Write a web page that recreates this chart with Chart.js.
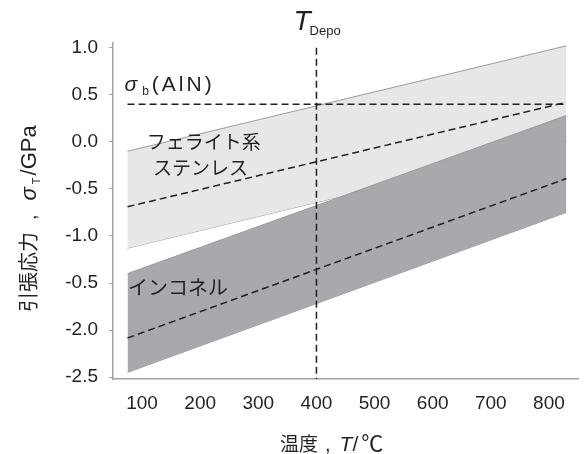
<!DOCTYPE html>
<html>
<head>
<meta charset="utf-8">
<script src="https://cdn.jsdelivr.net/npm/chart.js@4.4.1/dist/chart.umd.min.js"></script>
<style>
  html, body { margin: 0; padding: 0; background: #fff; }
</style>
</head>
<body>
<canvas id="stressChart" width="585" height="454"></canvas>
<script>
// temperature span of the bands (deg C)
const tempRange = [75, 830];
// ferritic stainless band + its mean line (GPa)
const ferriteUpper = [-0.10, 1.02];
const ferriteLower = [-1.13, 0.00];
const ferriteMid = [-0.69, 0.42];
// inconel band + mean line (GPa)
const inconelUpper = [-1.40, 0.28];
const inconelLower = [-2.45, -0.75];
const inconelMid = [-2.085, -0.39];
// bending strength of AlN
const sigmaAlN = [0.40, 0.40];
// deposition temperature marker
const depoTemp = [400, 400];
const depoStress = [1.0, -2.52];

const xTicks = [100, 200, 300, 400, 500, 600, 700, 800];
const yTicks = [-2.5, -2.0, -1.5, -1.0, -0.5, 0.0, 0.5, 1.0];
const yTickLabels = ['-2.5', '-2.0', '-0.5', '-1.0', '-0.5', '0.0', '0.5', '1.0'];

const INK = '#231f20';
const LATIN = '"Liberation Sans", "Noto Sans CJK JP", sans-serif';
const CJK = '"Noto Sans CJK JP", "Liberation Sans", sans-serif';

function pts(xs, ys) {
    return xs.map((x, i) => ({ x: x, y: ys[i] }));
}

function edge(data, fill, bg, order) {
    return {
        data: data, fill: fill, backgroundColor: bg,
        borderColor: '#9b9b9b', borderWidth: 1, pointRadius: 0, order: order
    };
}

function dashed(data) {
    return {
        data: data, fill: false, borderColor: INK, borderWidth: 1.5,
        borderDash: [7, 4], pointRadius: 0, order: 1
    };
}

// draws text pieces one after another (fonts, subscripts, gaps)
function drawRuns(ctx, x, y, runs) {
    let cx = x;
    runs.forEach(r => {
        ctx.font = r.font;
        ctx.letterSpacing = r.spacing || '0px';
        cx += r.before || 0;
        ctx.fillText(r.text, cx, y + (r.dy || 0));
        cx += ctx.measureText(r.text).width + (r.after || 0);
    });
    ctx.letterSpacing = '0px';
}

const labelPlugin = {
    id: 'labels',
    afterDraw(chart) {
        const ctx = chart.ctx;
        const xs = chart.scales.x, ys = chart.scales.y;
        ctx.save();
        ctx.fillStyle = INK;
        ctx.textAlign = 'left';
        ctx.textBaseline = 'alphabetic';

        // T_Depo above the vertical line
        drawRuns(ctx, xs.getPixelForValue(depoTemp[0]) - 23, 30, [
            { text: 'T', font: 'italic 28px ' + LATIN, after: -1 },
            { text: 'Depo', font: '13px ' + LATIN, dy: 5 }
        ]);

        // sigma_b (AlN)
        drawRuns(ctx, xs.getPixelForValue(tempRange[0]) - 3, ys.getPixelForValue(0.54), [
            { text: 'σ', font: 'italic 21px ' + LATIN, after: 5 },
            { text: 'b', font: '12px ' + LATIN, dy: 4, after: 3 },
            { text: '(AlN)', font: '21px ' + LATIN, spacing: '3px' }
        ]);

        ctx.font = '19px ' + CJK;
        ctx.fillText('フェライト系', xs.getPixelForValue(108), ys.getPixelForValue(-0.076));
        ctx.fillText('ステンレス', xs.getPixelForValue(119), ys.getPixelForValue(-0.352));
        ctx.font = '20px ' + CJK;
        ctx.fillText('インコネル', xs.getPixelForValue(76), ys.getPixelForValue(-1.627));

        // x axis title
        drawRuns(ctx, 280, 451, [
            { text: '温度', font: '19px ' + CJK },
            { text: ',', font: '20px ' + LATIN, before: 7, after: 9 },
            { text: 'T', font: 'italic 21px ' + LATIN },
            { text: '/', font: '21px ' + LATIN, after: 3 },
            { text: '℃', font: '22px ' + CJK }
        ]);

        // y axis title, rotated
        ctx.translate(36, 312);
        ctx.rotate(-Math.PI / 2);
        drawRuns(ctx, 0, 0, [
            { text: '引張応力', font: '20px ' + CJK },
            { text: ',', font: '20px ' + LATIN, before: 12, after: 14 },
            { text: 'σ', font: 'italic 22px ' + LATIN, after: 3 },
            { text: 'T', font: '11px ' + LATIN, dy: 4, after: 2 },
            { text: '/GPa', font: '22px ' + LATIN }
        ]);
        ctx.restore();
    }
};

new Chart(document.getElementById('stressChart'), {
    type: 'line',
    data: {
        datasets: [
            edge(pts(tempRange, ferriteUpper), '+1', '#e6e7e8', 10),
            edge(pts(tempRange, ferriteLower), false, '#e6e7e8', 10),
            edge(pts(tempRange, inconelUpper), '+1', '#a7a9ac', 5),
            edge(pts(tempRange, inconelLower), false, '#a7a9ac', 5),
            dashed(pts(tempRange, sigmaAlN)),
            dashed(pts(tempRange, ferriteMid)),
            dashed(pts(tempRange, inconelMid)),
            dashed(pts(depoTemp, depoStress))
        ]
    },
    options: {
        responsive: false,
        animation: false,
        layout: { padding: { top: 43, right: 7, left: 0, bottom: 0 } },
        plugins: { legend: { display: false }, tooltip: { enabled: false } },
        scales: {
            x: {
                type: 'linear', min: 50, max: 850,
                afterBuildTicks: s => { s.ticks = xTicks.map(v => ({ value: v })); },
                afterFit: s => { s.height = 75; },
                grid: { display: false, drawTicks: false },
                border: { display: true, color: '#a3a3a3', width: 1.5 },
                ticks: { color: INK, padding: 13, font: { family: LATIN, size: 19 } }
            },
            y: {
                type: 'linear', min: -2.52, max: 1.05,
                afterBuildTicks: s => { s.ticks = yTicks.map(v => ({ value: v })); },
                afterFit: s => { s.width = 113; },
                grid: { display: true, drawOnChartArea: false, tickLength: 4, color: '#a3a3a3' },
                border: { display: true, color: '#a3a3a3', width: 1.5 },
                ticks: {
                    color: INK, padding: 11, font: { family: LATIN, size: 19 },
                    callback: v => yTickLabels[yTicks.indexOf(v)]
                }
            }
        }
    },
    plugins: [labelPlugin]
});
</script>
</body>
</html>
